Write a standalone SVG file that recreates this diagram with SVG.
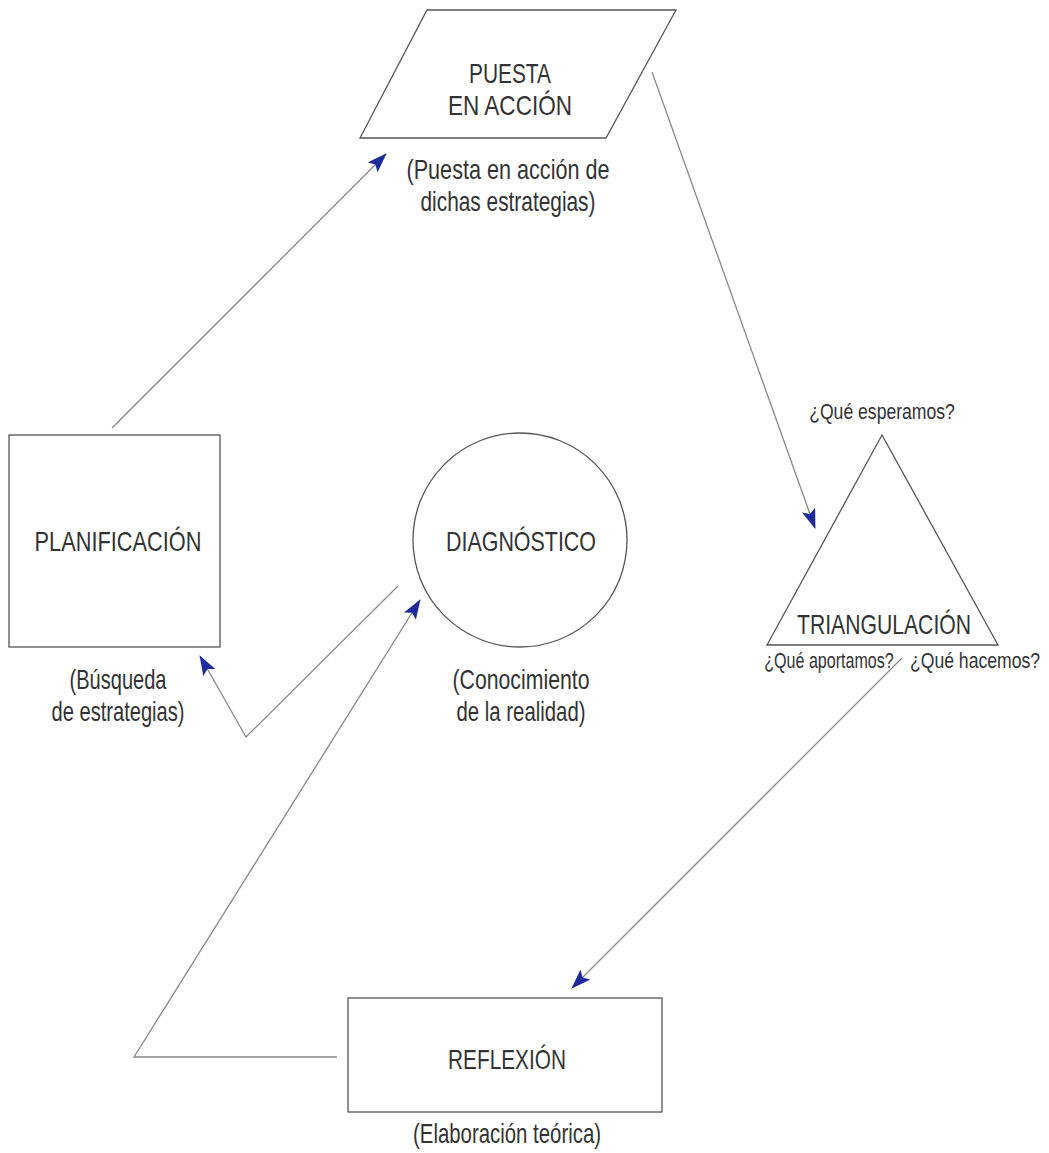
<svg xmlns="http://www.w3.org/2000/svg" width="1049" height="1153" viewBox="0 0 1049 1153">
<style>
  .shape { fill: none; stroke: #555; stroke-width: 1.3; }
  .conn { fill: none; stroke: #888; stroke-width: 1.3; }
  .t { font-family: "Liberation Sans", Arial, sans-serif; fill: #333; text-anchor: middle; font-size: 28px; }
  .q { font-family: "Liberation Sans", Arial, sans-serif; fill: #333; text-anchor: middle; font-size: 22px; }
</style>
<defs>
  <marker id="ah" viewBox="0 0 20 14" refX="19" refY="7" markerWidth="20" markerHeight="14" markerUnits="userSpaceOnUse" orient="auto">
    <path d="M0,0 L20,7 L0,14 L4,7 Z" fill="#1c2a9c"/>
  </marker>
</defs>
<rect width="1049" height="1153" fill="#fff"/>
<g id="puesta">
  <polygon class="shape" points="427,10 676,10 606,138 360,138"/>
  <text class="t" x="510" y="83" textLength="82" lengthAdjust="spacingAndGlyphs">PUESTA</text>
  <text class="t" x="510" y="115" textLength="124" lengthAdjust="spacingAndGlyphs">EN ACCIÓN</text>
  <text class="t" x="508" y="179" textLength="203" lengthAdjust="spacingAndGlyphs">(Puesta en acción de</text>
  <text class="t" x="508" y="211" textLength="175" lengthAdjust="spacingAndGlyphs">dichas estrategias)</text>
</g>
<g id="planificacion">
  <rect class="shape" x="9" y="435" width="211" height="212"/>
  <text class="t" x="118" y="551" textLength="167" lengthAdjust="spacingAndGlyphs">PLANIFICACIÓN</text>
  <text class="t" x="118" y="689" textLength="97" lengthAdjust="spacingAndGlyphs">(Búsqueda</text>
  <text class="t" x="118" y="721" textLength="133" lengthAdjust="spacingAndGlyphs">de estrategias)</text>
</g>
<g id="diagnostico">
  <circle class="shape" cx="520" cy="540" r="107"/>
  <text class="t" x="521" y="551" textLength="150" lengthAdjust="spacingAndGlyphs">DIAGNÓSTICO</text>
  <text class="t" x="521" y="689" textLength="137" lengthAdjust="spacingAndGlyphs">(Conocimiento</text>
  <text class="t" x="521" y="721" textLength="129" lengthAdjust="spacingAndGlyphs">de la realidad)</text>
</g>
<g id="triangulacion">
  <polygon class="shape" points="882,435 998,645 767,645"/>
  <text class="t" x="884" y="634" textLength="174" lengthAdjust="spacingAndGlyphs">TRIANGULACIÓN</text>
  <text class="q" transform="translate(882,419) scale(0.8,1)">¿Qué esperamos?</text>
  <text class="q" transform="translate(829,668) scale(0.73,1)">¿Qué aportamos?</text>
  <text class="q" transform="translate(975,668) scale(0.8,1)">¿Qué hacemos?</text>
</g>
<g id="reflexion">
  <rect class="shape" x="348" y="998" width="314" height="114"/>
  <text class="t" x="507" y="1069" textLength="118" lengthAdjust="spacingAndGlyphs">REFLEXIÓN</text>
  <text class="t" x="507" y="1143" textLength="188" lengthAdjust="spacingAndGlyphs">(Elaboración teórica)</text>
</g>
<g id="connectors">
  <line class="conn" x1="112" y1="428" x2="386" y2="154" marker-end="url(#ah)"/>
  <line class="conn" x1="652" y1="72" x2="815" y2="528" marker-end="url(#ah)"/>
  <line class="conn" x1="902" y1="658" x2="572" y2="988" marker-end="url(#ah)"/>
  <polyline class="conn" points="337,1057 134,1057 420,600" marker-end="url(#ah)"/>
  <polyline class="conn" points="398,586 246,737 200,656" marker-end="url(#ah)"/>
</g>
</svg>
